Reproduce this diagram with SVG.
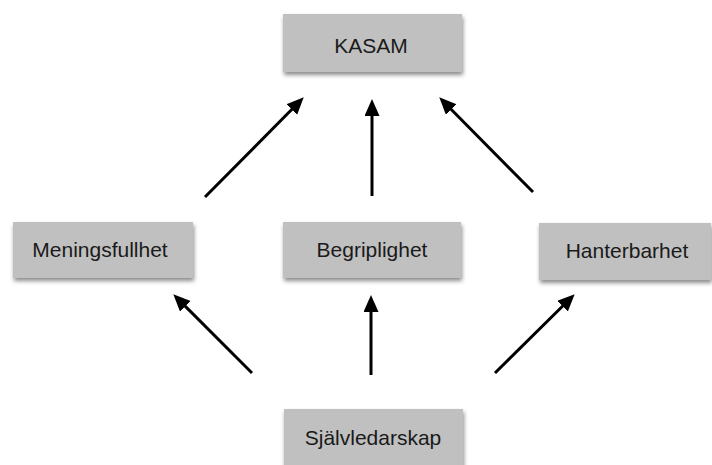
<svg xmlns="http://www.w3.org/2000/svg" width="712" height="465" viewBox="0 0 712 465">
<defs>
<style>
.box{fill:#c0c0c0;filter:url(#sh);}
.lbl{font-family:"Liberation Sans",Arial,sans-serif;font-size:21px;fill:#1a1a1a;text-anchor:middle;}
.arr{stroke:#000;stroke-width:3;fill:none;marker-end:url(#ah);}
</style>
<filter id="sh" x="-10%" y="-20%" width="130%" height="160%">
<feDropShadow dx="1" dy="3" stdDeviation="2" flood-color="#000" flood-opacity="0.45"/>
</filter>
<marker id="ah" markerUnits="userSpaceOnUse" markerWidth="18" markerHeight="16" refX="2" refY="7.5" orient="auto">
<path d="M0,0 L17,7.5 L0,15 z" fill="#000"/>
</marker>
</defs>
<rect width="712" height="465" fill="#fff"/>
<g id="connectors">
<line class="arr" x1="205" y1="197" x2="293.2" y2="108"/>
<line class="arr" x1="372" y1="196" x2="372" y2="114"/>
<line class="arr" x1="533" y1="192" x2="449.8" y2="108"/>
<line class="arr" x1="252" y1="373" x2="183.9" y2="304.9"/>
<line class="arr" x1="371" y1="375" x2="371" y2="310"/>
<line class="arr" x1="495" y1="373" x2="564" y2="304.8"/>
</g>
<g id="kasam">
<rect class="box" x="283" y="14" width="179" height="58"/>
<text class="lbl" x="371" y="53">KASAM</text>
</g>
<g id="meningsfullhet">
<rect class="box" x="13" y="222" width="180" height="56"/>
<text class="lbl" x="100" y="257">Meningsfullhet</text>
</g>
<g id="begriplighet">
<rect class="box" x="283" y="222" width="178" height="56"/>
<text class="lbl" x="372" y="257">Begriplighet</text>
</g>
<g id="hanterbarhet">
<rect class="box" x="539" y="223" width="172" height="57"/>
<text class="lbl" x="627" y="258">Hanterbarhet</text>
</g>
<g id="sjalvledarskap">
<rect class="box" x="284" y="409" width="179" height="62"/>
<text class="lbl" x="373" y="445">Självledarskap</text>
</g>
</svg>
